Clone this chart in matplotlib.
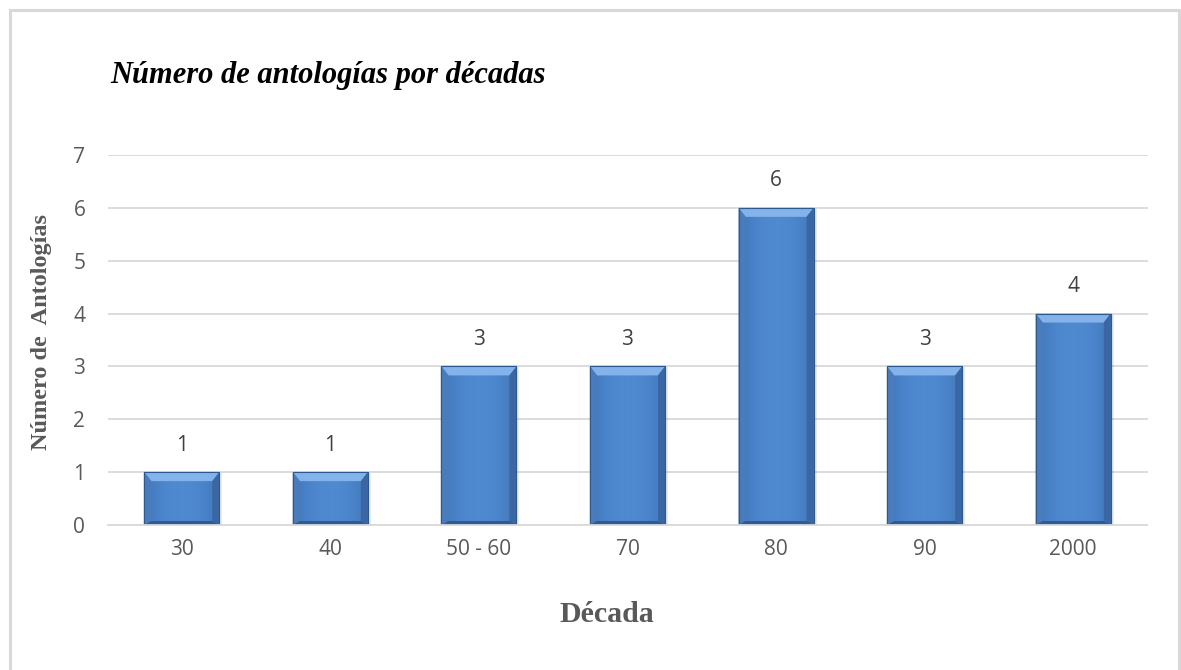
import matplotlib
matplotlib.use("Agg")
import matplotlib.pyplot as plt
import numpy as np
from matplotlib.patches import Polygon, Rectangle

categories = ["30", "40", "50 - 60", "70", "80", "90", "2000"]
values = [1, 1, 3, 3, 6, 3, 4]
yticks = [0, 1, 2, 3, 4, 5, 6, 7]

title = "Número de antologías por décadas"
xlabel = "Década"
ylabel = "Número de  Antologías"

W, H, DPI = 1181, 670, 100
fig = plt.figure(figsize=(W / DPI, H / DPI), dpi=DPI)
fig.patch.set_facecolor("white")

# outer frame (top, left, right)
frame_color = "#d9d9d9"
fig.add_artist(plt.Line2D([10 / W, 10 / W], [0, 1 - 10 / H], transform=fig.transFigure, color=frame_color, lw=2.2))
fig.add_artist(plt.Line2D([1179 / W, 1179 / W], [0, 1 - 10 / H], transform=fig.transFigure, color=frame_color, lw=2.2))
fig.add_artist(plt.Line2D([10 / W, 1179 / W], [1 - 10 / H, 1 - 10 / H], transform=fig.transFigure, color=frame_color, lw=2.2))

left, right = 107.5 / W, 1147.5 / W
bottom = (H - 525) / H
top = (H - 155) / H
ax = fig.add_axes([left, bottom, right - left, top - bottom])

x = np.arange(len(categories))
ax.set_xlim(-0.5, len(categories) - 0.5)
ax.set_ylim(0, 7)

ax.set_yticks(yticks)
ax.grid(axis="y", color="#d9d9d9", lw=1.3, zorder=0)
ax.set_axisbelow(True)
for s in ["top", "right", "left"]:
    ax.spines[s].set_visible(False)
ax.spines["bottom"].set_color("#d9d9d9")
ax.spines["bottom"].set_linewidth(1.3)
ax.tick_params(axis="both", length=0, colors="#595959", labelsize=15)
ax.tick_params(axis="y", pad=16)
ax.tick_params(axis="x", pad=10)
ax.set_xticks(x)
ax.set_xticklabels(categories, family="Open Sans")
for lab in ax.get_yticklabels():
    lab.set_family("Open Sans")

bars = ax.bar(x, values, width=0.505, color="#4a80c4", edgecolor="#2d5a8e", linewidth=0.8, zorder=2)

# pixel -> data conversions
fig.canvas.draw()
px_x = (ax.get_xlim()[1] - ax.get_xlim()[0]) / (ax.bbox.width)
px_y = (ax.get_ylim()[1] - ax.get_ylim()[0]) / (ax.bbox.height)

grad = np.linspace(0, 1, 256)
prof = 1 - 0.35 * (np.abs(grad - 0.5) * 2) ** 2
c_center = np.array([0.31, 0.54, 0.82])
c_edge = np.array([0.25, 0.46, 0.72])
img = (c_edge[None, :] + (c_center - c_edge)[None, :] * ((prof - 0.65) / 0.35)[:, None])
img = img[None, :, :]

for b in bars:
    x0, y0 = b.get_x(), b.get_y()
    x1, y1 = x0 + b.get_width(), y0 + b.get_height()
    # soft shadow
    ax.add_patch(Rectangle((x0 - 1 * px_x, y0), (x1 - x0) + 4 * px_x, (y1 - y0) - 1 * px_y,
                           facecolor="#000000", alpha=0.08, edgecolor="none", zorder=1.9))
    im = ax.imshow(np.repeat(img, 2, axis=0), extent=[x0, x1, y0, y1], aspect="auto", zorder=2.1, interpolation="bilinear")
    im.set_clip_path(b)
    bx = 7 * px_x
    by = 9 * px_y
    byb = 4 * px_y
    top_poly = Polygon([(x0, y1), (x1, y1), (x1 - bx, y1 - by), (x0 + bx, y1 - by)], closed=True,
                       facecolor="#83b3ea", edgecolor="none", zorder=2.2)
    left_poly = Polygon([(x0, y0), (x0, y1), (x0 + bx, y1 - by), (x0 + bx, y0 + byb)], closed=True,
                        facecolor="#4a7cbc", edgecolor="none", zorder=2.2)
    right_poly = Polygon([(x1, y0), (x1, y1), (x1 - bx, y1 - by), (x1 - bx, y0 + byb)], closed=True,
                         facecolor="#3a67a3", edgecolor="none", zorder=2.2)
    bot_poly = Polygon([(x0, y0), (x1, y0), (x1 - bx, y0 + byb), (x0 + bx, y0 + byb)], closed=True,
                       facecolor="#2f5b92", edgecolor="none", zorder=2.2)
    for p in (top_poly, left_poly, right_poly, bot_poly):
        ax.add_patch(p)
    ax.add_patch(Rectangle((x0, y0), x1 - x0, y1 - y0, facecolor="none", edgecolor="#2d5a8e", lw=0.8, zorder=2.3))
    ax.annotate(f"{b.get_height():g}", (b.get_x() + b.get_width() / 2, y1), xytext=(0, 27),
                textcoords="offset pixels", ha="center", va="center", fontsize=15,
                color="#404040", family="Open Sans")

fig.text(110 / W, 1 - 75 / H, title, family="Liberation Serif", fontsize=22, fontweight="bold",
         fontstyle="italic", ha="left", va="center", color="black")
fig.text(42 / W, 1 - 332 / H, ylabel, family="Liberation Serif", fontsize=17.5, fontweight="bold",
         rotation=90, ha="center", va="center", color="#595959")
fig.text(607 / W, 1 - 615 / H, xlabel, family="Liberation Serif", fontsize=21.5, fontweight="bold",
         ha="center", va="center", color="#595959")

fig.savefig("out.png", dpi=DPI, facecolor="white")
